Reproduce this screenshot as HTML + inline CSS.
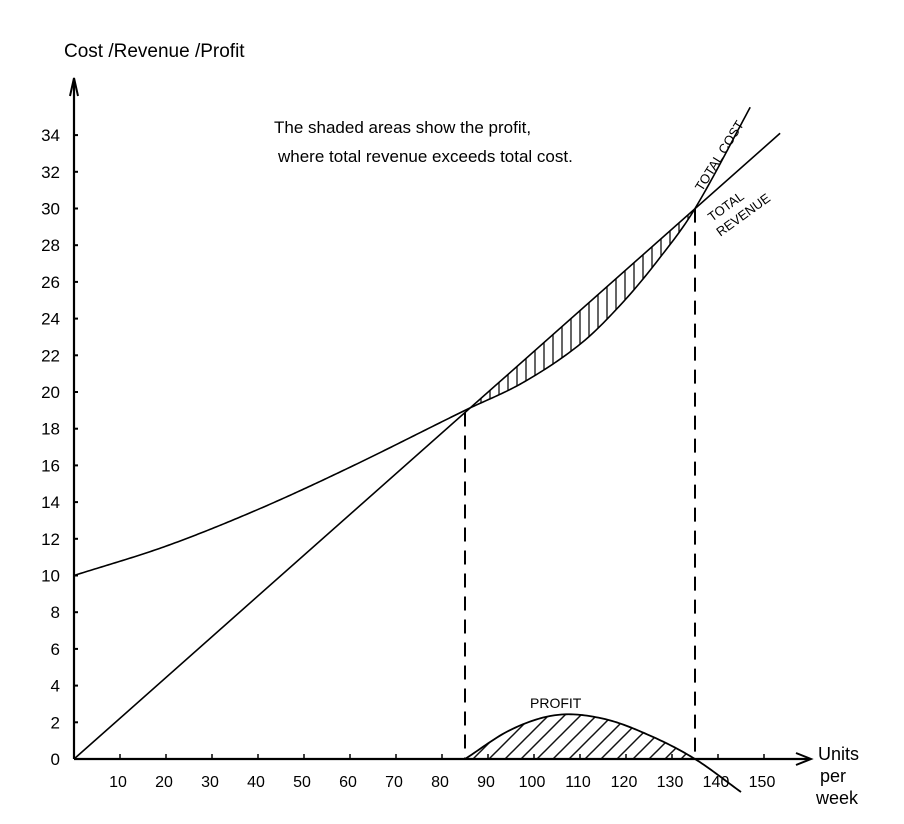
<!DOCTYPE html>
<html><head><meta charset="utf-8"><style>
html,body{margin:0;padding:0;background:#fff}
svg{display:block;font-family:"Liberation Sans",sans-serif}
</style></head><body>
<svg id="chart" width="904" height="824" viewBox="0 0 904 824">
<defs>
<pattern id="vh" width="9" height="10" patternUnits="userSpaceOnUse"><line x1="4" y1="0" x2="4" y2="10" stroke="#111" stroke-width="1.3"/></pattern>
<pattern id="dh" width="16" height="16" patternUnits="userSpaceOnUse"><line x1="0" y1="16" x2="16" y2="0" stroke="#111" stroke-width="1.5"/><line x1="-4" y1="4" x2="4" y2="-4" stroke="#111" stroke-width="1.5"/><line x1="12" y1="20" x2="20" y2="12" stroke="#111" stroke-width="1.5"/></pattern>
</defs>
<g id="g"></g>
<text x="64" y="57" font-size="19">Cost /Revenue /Profit</text>
<text x="274" y="133" font-size="17">The shaded areas show the profit,</text>
<text x="278" y="162" font-size="17">where total revenue exceeds total cost.</text>
<text x="0" y="0" font-size="13" transform="translate(702,192) rotate(-58)">TOTAL COST</text>
<text font-size="13" transform="translate(712,222) rotate(-36)"><tspan x="0" y="0">TOTAL</tspan><tspan x="-2" y="17">REVENUE</tspan></text>
<text x="530" y="708" font-size="14">PROFIT</text>
<text font-size="18"><tspan x="818" y="760">Units</tspan><tspan x="820" y="782">per</tspan><tspan x="816" y="804">week</tspan></text>
</svg>
<script>
const xVals=[0,10,20,30,40,50,60,70,80,90,100,110,120,130,140,150];
const yTicks=[0,2,4,6,8,10,12,14,16,18,20,22,24,26,28,30,32,34];
const revenueX=[0,153.5];
const revenueY=[0,34.1];
const costX=[0,20,40,60,85,97.5,110,119,127,135,147.4];
const costY=[10,11.6,13.6,15.9,19,20.5,22.6,24.8,27.2,30,35.7];
const profitX=[85,95,105,115,125,135,145];
const profitY=[0,1.6,2.4,2.2,1.3,0,-1.8];
const breakEven=[85,135];

const X0=74,XS=4.6,Y0=759,YS=18.35;
const sx=v=>X0+v*XS, sy=v=>Y0-v*YS;
const NS="http://www.w3.org/2000/svg";
const g=document.getElementById('g');
function mk(t,a){const e=document.createElementNS(NS,t);for(const k in a)e.setAttribute(k,a[k]);g.appendChild(e);return e;}
function interp(xs,ys,x){
  let i=0;while(i<xs.length-2&&x>xs[i+1])i++;
  const x0=xs[i],x1=xs[i+1],y0=ys[i],y1=ys[i+1];
  const m=(j)=>{if(j<=0)return (ys[1]-ys[0])/(xs[1]-xs[0]);if(j>=xs.length-1)return (ys[j]-ys[j-1])/(xs[j]-xs[j-1]);return (ys[j+1]-ys[j-1])/(xs[j+1]-xs[j-1]);};
  const h=x1-x0,t=(x-x0)/h,t2=t*t,t3=t2*t;
  return (2*t3-3*t2+1)*y0+(t3-2*t2+t)*h*m(i)+(-2*t3+3*t2)*y1+(t3-t2)*h*m(i+1);
}
function pts(xs,ys,a,b){const p=[];for(let x=a;x<=b+1e-9;x+=0.5)p.push([sx(x),sy(interp(xs,ys,x))]);return p;}
const rev=x=>revenueY[0]+(revenueY[1]-revenueY[0])*(x-revenueX[0])/(revenueX[1]-revenueX[0]);

const upperPts=[],lowerPts=[];
for(let x=breakEven[0];x<=breakEven[1]+1e-9;x+=0.5){upperPts.push([sx(x),sy(rev(x))]);lowerPts.push([sx(x),sy(interp(costX,costY,x))]);}
const sh=mk('path',{d:'M'+upperPts.map(p=>p.join(',')).join('L')+'L'+lowerPts.reverse().map(p=>p.join(',')).join('L')+'Z',fill:'url(#vh)',stroke:'none'});



const pp=pts(profitX,profitY,breakEven[0],breakEven[1]);
const ph=mk('path',{d:'M'+pp.map(p=>p.join(',')).join('L')+'Z',fill:'url(#dh)',stroke:'none'});



const ya=mk('path',{d:`M${X0},${Y0}L${X0},80`,stroke:'#000','stroke-width':2.2,fill:'none'});


const yar=mk('path',{d:`M${X0-4},96L${X0},78L${X0+4},96`,stroke:'#000','stroke-width':2,fill:'none'});


const xa=mk('path',{d:`M${X0},${Y0}L810,${Y0}`,stroke:'#000','stroke-width':2.2,fill:'none'});


const xar=mk('path',{d:`M796,${Y0-6}L811,${Y0}L796,${Y0+6}`,stroke:'#000','stroke-width':2,fill:'none'});



yTicks.forEach(v=>{
  const t=mk('line',{x1:X0,x2:X0+4,y1:sy(v),y2:sy(v),stroke:'#000','stroke-width':2});
  
  
  const l=mk('text',{x:X0-14,y:sy(v)+6,'text-anchor':'end','font-size':17});
  l.textContent=v;
  
  
});
xVals.forEach(v=>{
  if(v===0)return;
  const t=mk('line',{x1:sx(v),x2:sx(v),y1:Y0,y2:Y0-5,stroke:'#000','stroke-width':1.5});
  
  
  const l=mk('text',{x:sx(v)-2,y:Y0+28,'text-anchor':'middle','font-size':16});
  l.textContent=v;
  
  
});

const rl=mk('line',{x1:sx(revenueX[0]),y1:sy(revenueY[0]),x2:sx(revenueX[1]),y2:sy(revenueY[1]),stroke:'#000','stroke-width':1.6});


const cp=pts(costX,costY,costX[0],costX[costX.length-1]);
const cl=mk('path',{d:'M'+cp.map(p=>p.join(',')).join('L'),stroke:'#000','stroke-width':1.6,fill:'none'});


const pc=pts(profitX,profitY,profitX[0],profitX[profitX.length-1]);
const pl=mk('path',{d:'M'+pc.map(p=>p.join(',')).join('L'),stroke:'#000','stroke-width':1.8,fill:'none'});


breakEven.forEach(b=>{
  const d=mk('line',{x1:sx(b),x2:sx(b),y1:sy(rev(b)),y2:Y0,stroke:'#000','stroke-width':2,'stroke-dasharray':'14,9'});
  
  
});
</script>
</body></html>
